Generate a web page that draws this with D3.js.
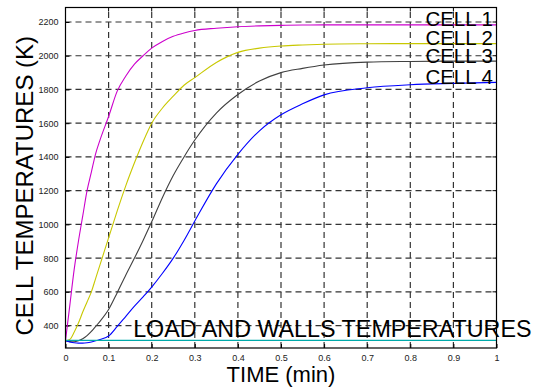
<!DOCTYPE html>
<html>
<head>
<meta charset="utf-8">
<script src="https://cdn.jsdelivr.net/npm/d3@7"></script>
<style>
  body { margin: 0; background: #fff; }
  svg { display: block; font-family: "Liberation Sans", Arial, sans-serif; }
</style>
</head>
<body>
<div id="chart"></div>
<script>
// Cell temperature transient

const timeMin = [0, 0.01, 0.02, 0.03, 0.04, 0.05, 0.06, 0.07, 0.08, 0.1, 0.12, 0.14, 0.16, 0.18, 0.2,
                 0.225, 0.25, 0.275, 0.3, 0.35, 0.4, 0.45, 0.5, 0.55, 0.6, 0.7, 0.8, 0.9, 1.0];

const cell1 = [310, 520, 730, 900, 1050, 1200, 1310, 1420, 1500, 1640, 1790, 1880, 1950, 2000, 2045,
               2085, 2115, 2135, 2150, 2163, 2172, 2177, 2180, 2182, 2183, 2183, 2183, 2183, 2183];
const cell2 = [310, 318, 360, 415, 480, 540, 600, 680, 760, 920, 1080, 1230, 1365, 1490, 1600,
               1690, 1760, 1825, 1870, 1960, 2020, 2045, 2058, 2064, 2068, 2071, 2072, 2072, 2072];
const cell3 = [310, 305, 304, 310, 322, 340, 365, 395, 425, 495, 595, 700, 800, 905, 1015,
               1160, 1290, 1400, 1500, 1660, 1770, 1850, 1900, 1925, 1945, 1962, 1966, 1968, 1968];
const cell4 = [310, 303, 298, 296, 296, 298, 303, 310, 318, 338, 395, 455, 515, 570, 628,
               710, 800, 905, 1020, 1240, 1415, 1555, 1650, 1715, 1768, 1810, 1828, 1836, 1842];
const loadTemp = 312;

const cellNames = ['CELL 1', 'CELL 2', 'CELL 3', 'CELL 4'];
const cellColors = ['#cc00cc', '#c8c800', '#404040', '#0000ff'];
const xTicks = [0, 0.1, 0.2, 0.3, 0.4, 0.5, 0.6, 0.7, 0.8, 0.9, 1];
const yTicks = [400, 600, 800, 1000, 1200, 1400, 1600, 1800, 2000, 2200];

const width = 546, height = 392;
const margin = { top: 7.5, right: 49.5, bottom: 44, left: 65.5 };

const svg = d3.select('#chart').append('svg')
    .attr('width', width)
    .attr('height', height);

const x = d3.scaleLinear().domain([0, 1]).range([margin.left, width - margin.right]);
const y = d3.scaleLinear().domain([267, 2286]).range([height - margin.bottom, margin.top]);

// dashed grid
const grid = svg.append('g')
    .attr('stroke', '#333')
    .attr('stroke-width', 1.2)
    .attr('stroke-dasharray', '6,4');

grid.selectAll('.vg').data(xTicks.slice(1, -1)).enter().append('line')
    .attr('x1', d => x(d)).attr('x2', d => x(d))
    .attr('y1', y.range()[0]).attr('y2', y.range()[1]);

grid.selectAll('.hg').data(yTicks).enter().append('line')
    .attr('x1', x.range()[0]).attr('x2', x.range()[1])
    .attr('y1', d => y(d)).attr('y2', d => y(d));

// axes, ticks pointing inward like matlab
const xAxis = svg.append('g')
    .attr('transform', `translate(0,${y.range()[0]})`)
    .call(d3.axisBottom(x).tickValues(xTicks).tickSize(-4).tickPadding(7).tickFormat(d3.format('')));
const yAxis = svg.append('g')
    .attr('transform', `translate(${x.range()[0]},0)`)
    .call(d3.axisLeft(y).tickValues(yTicks).tickSize(-4).tickPadding(7).tickFormat(d3.format('d')));

[xAxis, yAxis].forEach(a => {
    a.select('.domain').remove();
    a.selectAll('text').attr('font-size', '9px').attr('fill', '#222')
        .style('font-family', '"Liberation Sans", Arial, sans-serif');
    a.selectAll('.tick line').attr('stroke', '#000');
});

// top/right ticks
svg.append('g').selectAll('line').data(xTicks).enter().append('line')
    .attr('x1', d => x(d)).attr('x2', d => x(d))
    .attr('y1', y.range()[1]).attr('y2', y.range()[1] + 4)
    .attr('stroke', '#000');
svg.append('g').selectAll('line').data(yTicks).enter().append('line')
    .attr('x1', x.range()[1]).attr('x2', x.range()[1] - 4)
    .attr('y1', d => y(d)).attr('y2', d => y(d))
    .attr('stroke', '#000');

// curves
const series = [cell1, cell2, cell3, cell4];
const line = d3.line()
    .x(d => x(d[0]))
    .y(d => y(d[1]))
    .curve(d3.curveMonotoneX);

series.forEach((vals, i) => {
    svg.append('path')
        .datum(timeMin.map((t, j) => [t, vals[j]]))
        .attr('fill', 'none')
        .attr('stroke', cellColors[i])
        .attr('stroke-width', 1.1)
        .attr('d', line);
});

svg.append('path')
    .datum([[0, loadTemp], [1, loadTemp]])
    .attr('fill', 'none')
    .attr('stroke', '#00aaaa')
    .attr('stroke-width', 1.3)
    .attr('d', line);

// box
svg.append('rect')
    .attr('x', x.range()[0]).attr('y', y.range()[1])
    .attr('width', x.range()[1] - x.range()[0])
    .attr('height', y.range()[0] - y.range()[1])
    .attr('fill', 'none')
    .attr('stroke', '#000')
    .attr('stroke-width', 1.2);

// annotations
series.forEach((vals, i) => {
    svg.append('text')
        .attr('x', x(0.835))
        .attr('y', y(vals[vals.length - 1]) + 1.5)
        .attr('font-size', '20.5px')
        .attr('fill', '#000')
        .text(cellNames[i]);
});

svg.append('text')
    .attr('x', x(0.157))
    .attr('y', y(loadTemp) - 3)
    .attr('font-size', '23.3px')
    .attr('fill', '#000')
    .text('LOAD AND WALLS TEMPERATURES');

svg.append('text')
    .attr('x', (x.range()[0] + x.range()[1]) / 2)
    .attr('y', 382)
    .attr('text-anchor', 'middle')
    .attr('font-size', '22px')
    .text('TIME (min)');

svg.append('text')
    .attr('transform', `translate(33,${(y.range()[0] + y.range()[1]) / 2 + 8}) rotate(-90)`)
    .attr('text-anchor', 'middle')
    .attr('font-size', '24px')
    .text('CELL TEMPERATURES (K)');
</script>
</body>
</html>
